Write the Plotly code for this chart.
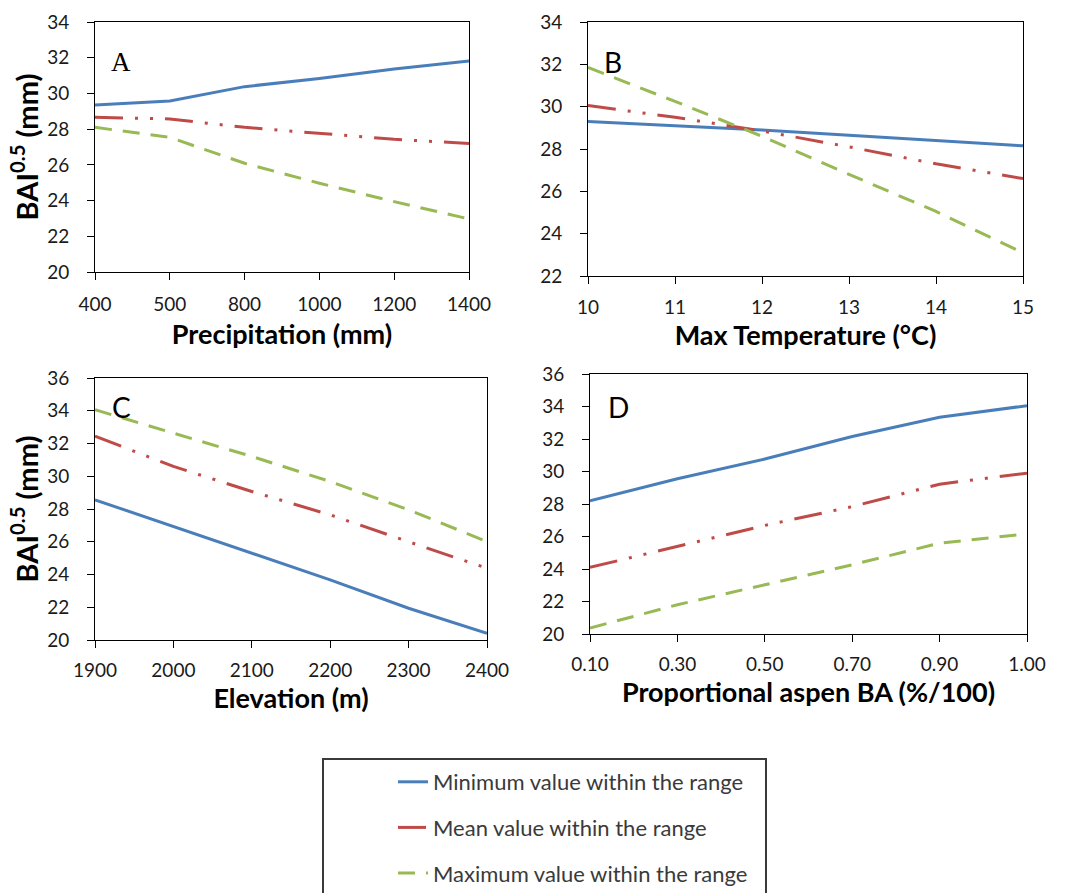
import plotly.graph_objects as go

# Panel A: precipitation (mm)
precip = ["400", "500", "800", "1000", "1200", "1400"]
precip_min = [29.35, 29.58, 30.38, 30.83, 31.37, 31.82]
precip_mean = [28.66, 28.57, 28.10, 27.77, 27.43, 27.20]
precip_max = [28.10, 27.54, 26.09, 24.97, 23.94, 22.97]

# Panel B: max temperature (°C)
tmax = [10, 11, 12, 13, 14, 15]
tmax_min = [29.30, 29.10, 28.90, 28.65, 28.40, 28.15]
tmax_mean = [30.05, 29.50, 28.85, 28.10, 27.30, 26.60]
tmax_max = [31.85, 30.25, 28.60, 26.80, 25.05, 23.10]

# Panel C: elevation (m)
elev = [1900, 2000, 2100, 2200, 2300, 2400]
elev_min = [28.56, 26.93, 25.30, 23.67, 21.94, 20.41]
elev_mean = [32.45, 30.60, 29.07, 27.64, 26.00, 24.38]
elev_max = [34.06, 32.64, 31.21, 29.68, 27.95, 26.01]

# Panel D: proportional aspen basal area
aspen = ["0.10", "0.30", "0.50", "0.70", "0.90", "1.00"]
aspen_min = [28.19, 29.55, 30.77, 32.15, 33.34, 34.05]
aspen_mean = [24.10, 25.39, 26.68, 27.84, 29.22, 29.90]
aspen_max = [20.37, 21.80, 23.03, 24.26, 25.59, 26.16]

series_names = ["Minimum value within the range",
                "Mean value within the range",
                "Maximum value within the range"]
colors = ["#4A7EBB", "#BE4B48", "#98B954"]
dashes = ["solid", "28px,12px,3px,12px,3px,12px", "17px,11px"]

FONT = "Lato"
TICK_COLOR = "#1a1a1a"

panels = [
    ("x", "y", precip, [precip_min, precip_mean, precip_max]),
    ("x2", "y2", tmax, [tmax_min, tmax_mean, tmax_max]),
    ("x3", "y3", elev, [elev_min, elev_mean, elev_max]),
    ("x4", "y4", aspen, [aspen_min, aspen_mean, aspen_max]),
]

fig = go.Figure()
for p, (xa, ya, xs, ys_list) in enumerate(panels):
    for i, ys in enumerate(ys_list):
        fig.add_trace(go.Scatter(
            x=xs, y=ys, xaxis=xa, yaxis=ya, mode="lines",
            name=series_names[i], legendgroup=series_names[i],
            showlegend=(p == 0),
            line=dict(color=colors[i], width=3, dash=dashes[i]),
        ))

W, H = 1081, 893


def xdom(l, r):
    return [l / W, r / W]


def ydom(top, bottom):
    return [1 - bottom / H, 1 - top / H]


axis_common = dict(
    showline=True, linecolor="black", linewidth=1, mirror=True,
    ticks="outside", ticklen=7, tickcolor="black", tickwidth=1,
    showgrid=False, zeroline=False, automargin=False,
    tickfont=dict(family=FONT, size=19, color=TICK_COLOR),
)
xtitle_font = dict(family=FONT, size=27, color="black", weight="bold")
ytitle_font = dict(family=FONT, size=29, color="black", weight="bold")
ytitle_text = "BAI<sup>0.5</sup> (mm)"

layout = dict(
    width=W, height=H,
    margin=dict(l=0, r=0, t=0, b=0, pad=0, autoexpand=False),
    paper_bgcolor="white", plot_bgcolor="white",
    font=dict(family=FONT),
)

# x axes
layout["xaxis"] = dict(axis_common, domain=xdom(95, 469), anchor="y",
                       type="category", range=[0, 5], ticklabelstandoff=8,
                       title=dict(text="Precipitation (mm)", font=xtitle_font, standoff=11))
layout["xaxis2"] = dict(axis_common, domain=xdom(588, 1023), anchor="y2",
                        range=[10, 15], dtick=1, ticklabelstandoff=7,
                        title=dict(text="Max Temperature (°C)", font=xtitle_font, standoff=8))
layout["xaxis3"] = dict(axis_common, domain=xdom(95, 487), anchor="y3",
                        range=[1900, 2400], dtick=100, ticklabelstandoff=6,
                        title=dict(text="Elevation (m)", font=xtitle_font, standoff=0))
layout["xaxis4"] = dict(axis_common, domain=xdom(590, 1027), anchor="y4",
                        type="category", range=[0, 5], ticklabelstandoff=6,
                        title=dict(text="Proportional aspen BA (%/100)", font=xtitle_font, standoff=8))

# y axes
layout["yaxis"] = dict(axis_common, domain=ydom(22, 272), anchor="x",
                       range=[20, 34], dtick=2, ticklabelstandoff=14,
                       title=dict(text=ytitle_text, font=ytitle_font, standoff=0))
layout["yaxis2"] = dict(axis_common, domain=ydom(22, 276), anchor="x2",
                        range=[22, 34], dtick=2, ticklabelstandoff=14)
layout["yaxis3"] = dict(axis_common, domain=ydom(378, 640), anchor="x3",
                        range=[20, 36], dtick=2, ticklabelstandoff=14,
                        title=dict(text=ytitle_text, font=ytitle_font, standoff=0))
layout["yaxis4"] = dict(axis_common, domain=ydom(374, 634), anchor="x4",
                        range=[20, 36], dtick=2, ticklabelstandoff=14)

# Panel letters
letters = [("A", 121, 62, "Liberation Serif", 27),
           ("B", 613, 62, FONT, 28),
           ("C", 121, 407, FONT, 28),
           ("D", 618, 407, FONT, 28)]
layout["annotations"] = [
    dict(text=t, x=px / W, y=1 - py / H, xref="paper", yref="paper",
         xanchor="center", yanchor="middle", showarrow=False,
         font=dict(family=f, size=s, color="black"))
    for t, px, py, f, s in letters
]

# Legend frame
layout["shapes"] = [dict(type="rect", xref="paper", yref="paper",
                         x0=323 / W, x1=766 / W, y0=-0.05, y1=1 - 759 / H,
                         line=dict(color="#3a3a3a", width=2), fillcolor="rgba(0,0,0,0)")]

layout["legend"] = dict(
    x=393 / W, y=1 - 761 / H, xanchor="left", yanchor="top",
    bgcolor="rgba(0,0,0,0)", borderwidth=0,
    font=dict(family=FONT, size=22, color="#3a3a3a"),
    traceorder="grouped", tracegroupgap=14, itemwidth=30,
)

fig.update_layout(**layout)
fig.write_html("out.html")
